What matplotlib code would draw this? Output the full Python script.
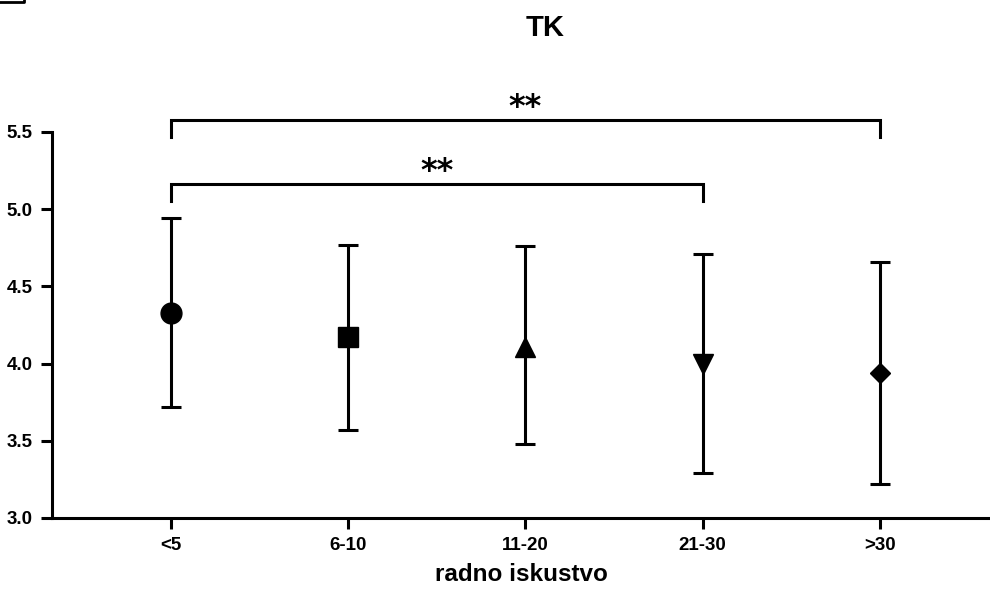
import matplotlib
matplotlib.use('Agg')
import matplotlib.pyplot as plt
from matplotlib.lines import Line2D

plt.rcParams['font.family'] = ['Liberation Sans', 'DejaVu Sans']
plt.rcParams['font.weight'] = 'bold'

# Daten
kategorije = ['<5', '6-10', '11-20', '21-30', '>30']
srednje = [4.33, 4.17, 4.11, 4.00, 3.94]
gornje = [4.94, 4.77, 4.76, 4.71, 4.66]
donje = [3.72, 3.57, 3.48, 3.29, 3.22]
markeri = ['o', 's', '^', 'v', 'D']
velicine = [15, 15, 15, 15, 10]

# Signifikanz: (od, do, visina, oznaka)
parovi = [(0, 4, 5.578, '**'), (0, 3, 5.163, '**')]
kuka = 0.11

fig = plt.figure(figsize=(9.9, 5.95), dpi=100)
ax = fig.add_axes([52/990, 77/595, 1 - 52/990, 386/595])

for i in range(len(kategorije)):
    yerr = [[srednje[i] - donje[i]], [gornje[i] - srednje[i]]]
    ax.errorbar(i, srednje[i], yerr=yerr, fmt=markeri[i], color='black',
                ms=velicine[i], elinewidth=2.2, capsize=7.5, capthick=2.2,
                clip_on=False, zorder=3)

for a, b, h, txt in parovi:
    ax.plot([a, a, b, b], [h - kuka, h, h, h - kuka], color='black', lw=2.2,
            clip_on=False, solid_joinstyle='miter')
    ax.annotate(txt, xy=((a + b) / 2, h), xytext=(0, -2), textcoords='offset points',
                ha='center', va='bottom', fontsize=23, fontweight='bold',
                family='DejaVu Sans', annotation_clip=False)

ax.set_xlim(-0.67, 4.62)
ax.set_ylim(3.0, 5.5)
ax.set_yticks([3.0, 3.5, 4.0, 4.5, 5.0, 5.5])
ax.set_yticklabels(['3.0', '3.5', '4.0', '4.5', '5.0', '5.5'])
ax.set_xticks(range(len(kategorije)))
ax.set_xticklabels(kategorije)
ax.tick_params(width=2.2, length=8, labelsize=13.5, pad=6)
for s in ['top', 'right']:
    ax.spines[s].set_visible(False)
for s in ['left', 'bottom']:
    ax.spines[s].set_linewidth(2.2)
ax.set_xlabel('radno iskustvo', fontsize=17.5, fontweight='bold', labelpad=6)

fig.text(545/990, 1 - 28/595, 'TK', ha='center', va='center', fontsize=21, fontweight='bold')

# ostatak okvira gore lijevo
fig.add_artist(Line2D([0, 24/990, 24/990], [1 - 2/595, 1 - 2/595, 1.0],
                      transform=fig.transFigure, color='black', lw=2))

plt.savefig('out.png', dpi=100)
plt.close()
